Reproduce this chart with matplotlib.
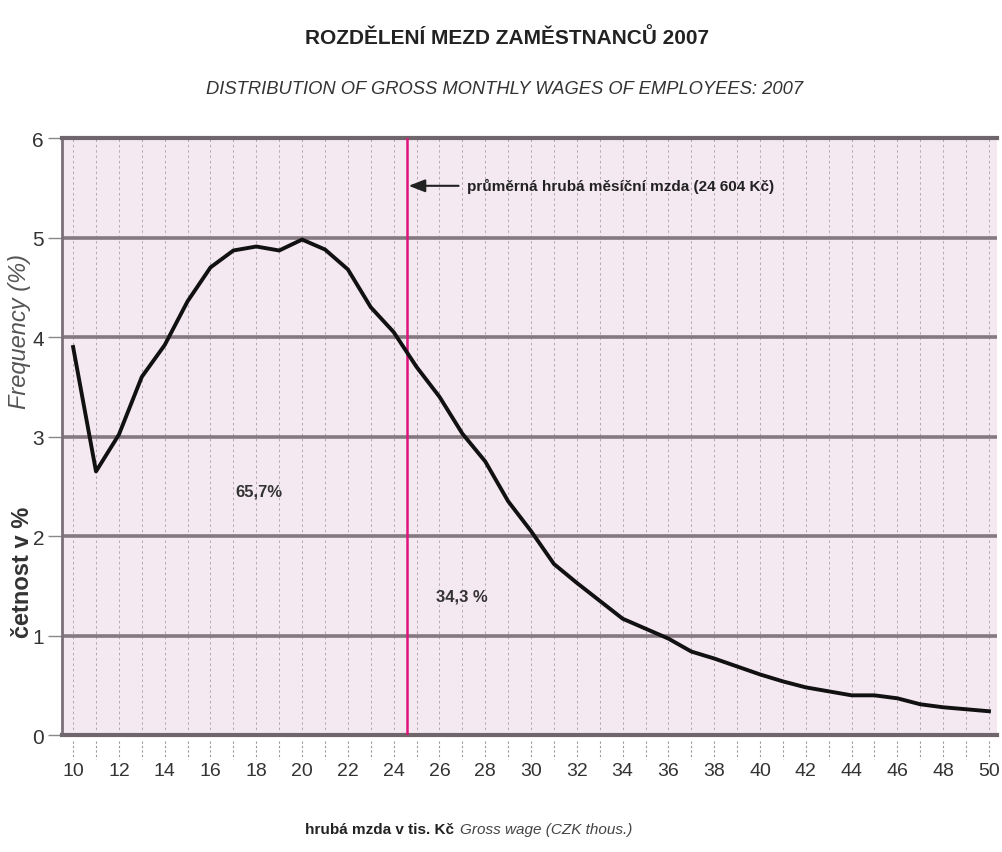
import numpy as np
import matplotlib
matplotlib.use("Agg")
from matplotlib import pyplot as plt
from matplotlib.transforms import blended_transform_factory

# wage in CZK thousands and share of employees in %
wage = list(range(10, 51))
freq = [3.90, 2.65, 3.02, 3.60, 3.92, 4.36, 4.70, 4.87, 4.91, 4.87,
        4.98, 4.88, 4.68, 4.30, 4.05, 3.70, 3.40, 3.03, 2.75, 2.35,
        2.05, 1.72, 1.53, 1.35, 1.17, 1.07, 0.97, 0.84, 0.77, 0.69,
        0.61, 0.54, 0.48, 0.44, 0.40, 0.40, 0.37, 0.31, 0.28, 0.26, 0.24]
mean_wage = 24.604
share_below = "65,7%"
share_above = "34,3 %"

title = "ROZDĚLENÍ MEZD ZAMĚSTNANCŮ 2007"
subtitle = "DISTRIBUTION OF GROSS MONTHLY WAGES OF EMPLOYEES: 2007"
mean_label = "průměrná hrubá měsíční mzda (24 604 Kč)"

plt.rcParams['font.family'] = ["Liberation Sans", "DejaVu Sans"]

fig = plt.figure(figsize=(10.02, 8.53), dpi=100)
ax = fig.add_axes([0.062, 0.137, 0.933, 0.700])
ax.set_facecolor("#f4e8f1")

ax.set_xlim(9.52, 50.35)
ax.set_ylim(0, 6)

# grid
for x in wage:
    ax.axvline(x, color="#b3a6b1", lw=0.7, ls=(0, (2.5, 3)), zorder=1)
for y in range(1, 6):
    ax.axhline(y, color="#85787f", lw=2.6, zorder=2)

ax.plot(wage, freq, color="#111111", lw=2.8, zorder=4, solid_joinstyle="round")
ax.axvline(mean_wage, color="#e0147d", lw=1.8, zorder=3)

ax.annotate(mean_label, xy=(mean_wage + 0.05, 5.52), xytext=(27.2, 5.52),
            va="center", ha="left", fontsize=11, fontweight="bold",
            color="#222222",
            arrowprops=dict(arrowstyle="-|>,head_length=0.9,head_width=0.35",
                            color="#222222", lw=1.5, shrinkA=4, shrinkB=0))
ax.text(18.1, 2.45, share_below, ha="center", va="center",
        fontsize=12, fontweight="bold", color="#333333")
ax.text(27.0, 1.40, share_above, ha="center", va="center",
        fontsize=12, fontweight="bold", color="#333333")

# spines
for side in ["top", "bottom"]:
    ax.spines[side].set_color("#6f666c")
    ax.spines[side].set_linewidth(3)
ax.spines["left"].set_color("#7a7077")
ax.spines["left"].set_linewidth(2)
ax.spines["right"].set_visible(False)

ax.set_yticks(range(0, 7))
ax.tick_params(axis="y", length=10, width=1, color="#888888",
               labelsize=15, labelcolor="#333333", pad=3)
ax.set_xticks(range(10, 51, 2))
ax.set_xticks(range(11, 51, 2), minor=True)
ax.tick_params(axis="x", which="both", length=0, labelsize=14,
               labelcolor="#333333", pad=19)

# dashed tick marks under the axis
trans = blended_transform_factory(ax.transData, ax.transAxes)
for x in wage:
    ax.plot([x, x], [-0.01, -0.04], transform=trans, clip_on=False,
            color="#999999", lw=0.8, ls=(0, (2, 2)))

fig.text(0.506, 0.955, title, ha="center", va="center", fontsize=15,
         fontweight="bold", color="#222222")
fig.text(0.504, 0.895, subtitle, ha="center", va="center", fontsize=13.2,
         style="italic", color="#333333")

fig.text(0.019, 0.611, "Frequency (%)", rotation=90, ha="center", va="center",
         fontsize=17, style="italic", color="#555555")
fig.text(0.022, 0.329, "četnost v %", rotation=90, ha="center", va="center",
         fontsize=17, fontweight="bold", color="#333333")

fig.text(0.304, 0.027, "hrubá mzda v tis. Kč", ha="left", va="center",
         fontsize=11, fontweight="bold", color="#222222")
fig.text(0.459, 0.027, "Gross wage (CZK thous.)", ha="left", va="center",
         fontsize=11, style="italic", color="#444444")

fig.savefig("out.png", dpi=100)
